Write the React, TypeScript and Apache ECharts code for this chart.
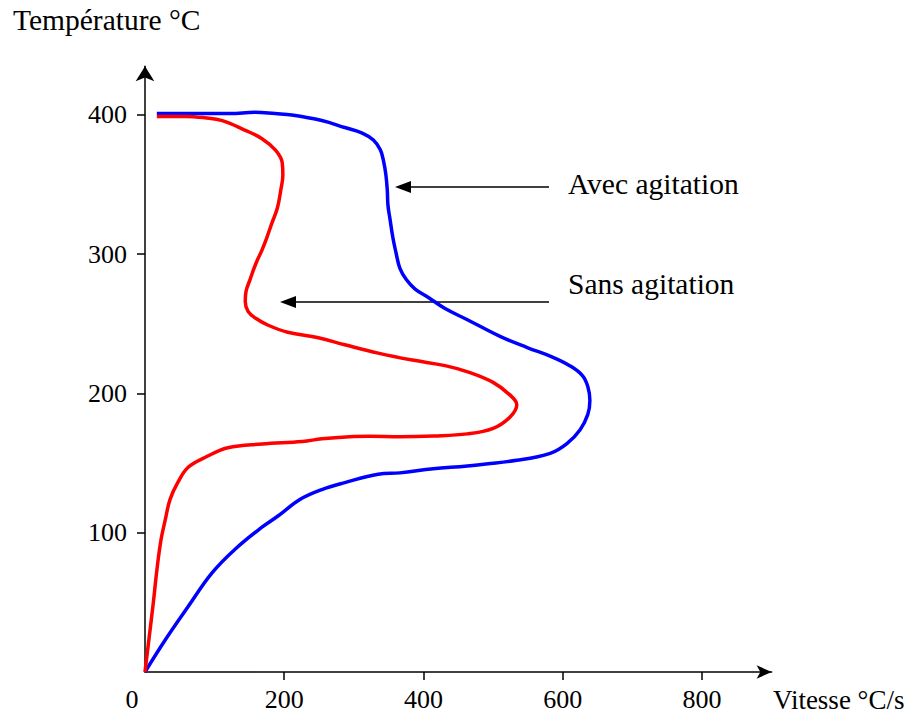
import React, { useEffect, useRef } from "react";
import * as echarts from "echarts";

// Vitesse de refroidissement (°C/s) en fonction de la température (°C)
const sansAgitationVitesse = [17, 58, 86, 111, 144, 168, 187, 197, 198, 195, 190, 182, 175, 168, 159, 151, 145, 144, 148, 159, 177, 205, 249, 287, 335, 384, 431, 467, 500, 524, 534, 524, 500, 463, 414, 366, 323, 294, 254, 226, 168, 119, 86, 62, 47, 36, 29, 23, 17, 12, 6, 0];
const sansAgitationTemp = [399, 399, 398, 396, 389, 383, 375, 366, 357, 346, 333, 322, 312, 303, 293, 282, 273, 266, 259, 254, 249, 244, 240, 235, 229, 224, 220, 215, 208, 199, 192, 183, 175, 171, 169.5, 169, 169.3, 169, 167.5, 165.5, 163.7, 161, 154, 147, 136, 124, 109, 95, 73, 50, 25, 0];

const avecAgitationVitesse = [17, 79, 122, 158, 187, 211, 254, 287, 312, 328, 338, 343, 346, 348, 349, 352, 356, 361, 366, 375, 388, 407, 431, 463, 510, 549, 586, 610, 628, 636, 639, 636, 625, 606, 582, 534, 463, 414, 366, 335, 287, 254, 223, 191, 168, 129, 96, 62, 29, 0];
const avecAgitationTemp = [401, 401, 401, 402, 401, 400, 396, 391, 387, 382, 375, 366, 357, 346, 335, 325, 312, 300, 290, 282, 275, 269, 261, 253, 241, 233, 226, 220, 213, 205, 195, 185, 174, 164, 157, 152, 148, 146, 143, 142, 136, 131, 124, 112, 104, 88, 71, 47, 23, 0];

const xTickValues = [200, 400, 600, 800];
const xLabelValues = [0, 200, 400, 600, 800];
const yTickValues = [100, 200, 300, 400];

const xAxisTitle = "Vitesse °C/s";
const yAxisTitle = "Température °C";
const labelAvec = "Avec agitation";
const labelSans = "Sans agitation";

const FONT = "'Liberation Serif', 'Times New Roman', serif";

export default function App() {
  const ref = useRef<HTMLDivElement>(null);
  useEffect(() => {
    document.body.style.margin = "0";
    const chart = echarts.init(ref.current!, null, { renderer: "svg" });
    const pair = (xs: number[], ys: number[]) => xs.map((v, i) => [v, ys[i]]);
    chart.setOption({
      animation: false,
      backgroundColor: "#ffffff",
      grid: { left: 145, right: 135.4, top: 66.26, bottom: 41 },
      xAxis: {
        type: "value",
        min: 0,
        max: 900,
        splitLine: { show: false },
        axisLine: {
          onZero: false,
          lineStyle: { color: "#000", width: 1.5 },
          symbol: ["none", "arrow"],
          symbolSize: [10, 15],
        },
        axisTick: { show: true, length: 8, inside: false, lineStyle: { color: "#000", width: 1.5 }, customValues: xTickValues },
        axisLabel: {
          customValues: xLabelValues,
          color: "#000",
          fontFamily: FONT,
          fontSize: 26,
          margin: 14,
          formatter: (v: number) => (v === 0 ? "{z|0}" : String(v)),
          rich: { z: { fontFamily: FONT, fontSize: 26, color: "#000", padding: [0, 26, 0, 0] } },
        },
      },
      yAxis: {
        type: "value",
        min: 0,
        max: 435,
        splitLine: { show: false },
        axisLine: {
          onZero: false,
          lineStyle: { color: "#000", width: 1.5 },
          symbol: ["none", "arrow"],
          symbolSize: [14, 15],
        },
        axisTick: { show: true, length: 8, lineStyle: { color: "#000", width: 1.5 }, customValues: yTickValues },
        axisLabel: {
          customValues: yTickValues,
          color: "#000",
          fontFamily: FONT,
          fontSize: 26,
          margin: 18,
        },
      },
      series: [
        {
          name: labelAvec,
          type: "line",
          data: pair(avecAgitationVitesse, avecAgitationTemp),
          smooth: 0.4,
          showSymbol: false,
          lineStyle: { color: "#0000ff", width: 3.5 },
          itemStyle: { color: "#0000ff" },
        },
        {
          name: labelSans,
          type: "line",
          data: pair(sansAgitationVitesse, sansAgitationTemp),
          smooth: 0.4,
          showSymbol: false,
          lineStyle: { color: "#ff0000", width: 3.5 },
          itemStyle: { color: "#ff0000" },
        },
      ],
      graphic: [
        { type: "text", left: 13, top: 5, style: { text: yAxisTitle, font: `29.5px ${FONT}`, fill: "#000" } },
        { type: "text", left: 773, top: 686, style: { text: xAxisTitle, font: `27px ${FONT}`, fill: "#000" } },
        { type: "text", left: 568, top: 169, style: { text: labelAvec, font: `29.5px ${FONT}`, fill: "#000" } },
        { type: "text", left: 568, top: 269, style: { text: labelSans, font: `29.5px ${FONT}`, fill: "#000" } },
        { type: "line", shape: { x1: 408, y1: 187, x2: 549, y2: 187 }, style: { stroke: "#000", lineWidth: 1.5 } },
        { type: "polygon", shape: { points: [[395, 187], [411, 181], [411, 193]] }, style: { fill: "#000" } },
        { type: "line", shape: { x1: 293, y1: 302, x2: 549, y2: 302 }, style: { stroke: "#000", lineWidth: 1.5 } },
        { type: "polygon", shape: { points: [[280, 302], [296, 296], [296, 308]] }, style: { fill: "#000" } },
      ],
    });
    return () => chart.dispose();
  }, []);
  return <div ref={ref} style={{ width: 907, height: 713 }} />;
}
